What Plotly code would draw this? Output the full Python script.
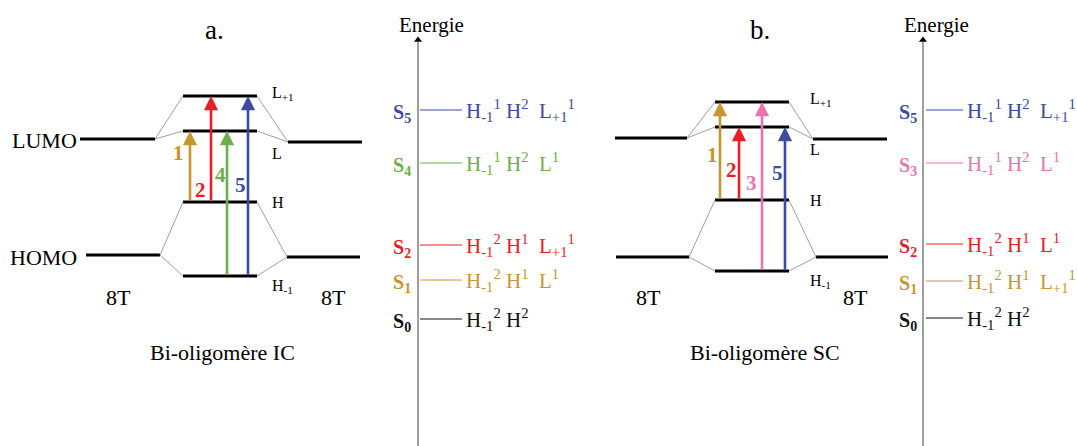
import plotly.graph_objects as go

W, H = 1077, 446
SERIF = "Liberation Serif, Times New Roman, serif"

# colour of each transition / excited state number
COL = {"0": "#111111", "1": "#c8962e", "2": "#ec1c24", "3": "#e874b0",
       "4": "#6cb04a", "5": "#3b4ba0"}

# ---------------- data (diagram energy units, up = higher) ----------------
orbitals = ["L+1", "L", "H", "H-1"]
orb_tex = {"L+1": "L<sub>+1</sub>", "L": "L", "H": "H", "H-1": "H<sub>-1</sub>"}

# panel a : Bi-oligomère IC
a_orb_E = [350, 315, 244, 170]
a_8T_lumo_E = [307, 304]          # left 8T, right 8T
a_8T_homo_E = [191, 189]
a_trans = ["1", "2", "4", "5"]
a_trans_from = ["H", "H", "H-1", "H-1"]
a_trans_to = ["L", "L+1", "L", "L+1"]
a_states = ["5", "4", "2", "1", "0"]
a_state_E = [336, 283, 201, 166, 127]
a_state_conf = [
    "H<sub>-1</sub><sup>1</sup> H<sup>2</sup>  L<sub>+1</sub><sup>1</sup>",
    "H<sub>-1</sub><sup>1</sup> H<sup>2</sup>  L<sup>1</sup>",
    "H<sub>-1</sub><sup>2</sup> H<sup>1</sup>  L<sub>+1</sub><sup>1</sup>",
    "H<sub>-1</sub><sup>2</sup> H<sup>1</sup>  L<sup>1</sup>",
    "H<sub>-1</sub><sup>2</sup> H<sup>2</sup>",
]

# panel b : Bi-oligomère SC
b_orb_E = [344, 319, 246, 175]
b_8T_lumo_E = [308, 307]
b_8T_homo_E = [189, 189]
b_trans = ["1", "2", "3", "5"]
b_trans_from = ["H", "H", "H-1", "H-1"]
b_trans_to = ["L+1", "L", "L+1", "L"]
b_states = ["5", "3", "2", "1", "0"]
b_state_E = [336, 283, 202, 165, 128]
b_state_conf = [
    "H<sub>-1</sub><sup>1</sup> H<sup>2</sup>  L<sub>+1</sub><sup>1</sup>",
    "H<sub>-1</sub><sup>1</sup> H<sup>2</sup>  L<sup>1</sup>",
    "H<sub>-1</sub><sup>2</sup> H<sup>1</sup>  L<sup>1</sup>",
    "H<sub>-1</sub><sup>2</sup> H<sup>1</sup>  L<sub>+1</sub><sup>1</sup>",
    "H<sub>-1</sub><sup>2</sup> H<sup>2</sup>",
]

# ---------------- layout geometry (x in px) ----------------
panels = [
    dict(title="a.", title_x=214, name="Bi-oligomère IC", name_x=222,
         orb_E=a_orb_E, lumo=a_8T_lumo_E, homo=a_8T_homo_E,
         trans=a_trans, tfrom=a_trans_from, tto=a_trans_to,
         states=a_states, state_E=a_state_E, conf=a_state_conf,
         l_lumo=(80, 155), l_homo=(86, 160), bars=(183, 257),
         r_lumo=(288, 362), r_homo=(287, 360),
         arrow_x=[190, 211, 227, 248],
         num_pos=[(178, 293), (200, 256), (220, 271), (240, 261)],
         orb_lab_x=270, t8_x=(118, 333), axis_x=418, sline=(420, 462),
         conf_x=464, s_x=402, show_lh=True),
    dict(title="b.", title_x=760, name="Bi-oligomère SC", name_x=765,
         orb_E=b_orb_E, lumo=b_8T_lumo_E, homo=b_8T_homo_E,
         trans=b_trans, tfrom=b_trans_from, tto=b_trans_to,
         states=b_states, state_E=b_state_E, conf=b_state_conf,
         l_lumo=(615, 687), l_homo=(616, 689), bars=(715, 789),
         r_lumo=(813, 887), r_homo=(816, 888),
         arrow_x=[720, 739, 762, 785],
         num_pos=[(712, 291), (731, 276), (751, 263), (777, 273)],
         orb_lab_x=808, t8_x=(648, 855), axis_x=923, sline=(926, 963),
         conf_x=965, s_x=908, show_lh=False),
]

fig = go.Figure()
ann = []

for p in panels:
    E = dict(zip(orbitals, p["orb_E"]))
    # thick black levels
    xs, ys = [], []
    for o in orbitals:
        xs += [p["bars"][0], p["bars"][1], None]
        ys += [E[o], E[o], None]
    xs += [p["l_lumo"][0], p["l_lumo"][1], None, p["r_lumo"][0], p["r_lumo"][1], None]
    ys += [p["lumo"][0], p["lumo"][0], None, p["lumo"][1], p["lumo"][1], None]
    xs += [p["l_homo"][0], p["l_homo"][1], None, p["r_homo"][0], p["r_homo"][1], None]
    ys += [p["homo"][0], p["homo"][0], None, p["homo"][1], p["homo"][1], None]
    fig.add_trace(go.Scatter(x=xs, y=ys, mode="lines",
                             line=dict(color="black", width=3), hoverinfo="skip"))
    # thin grey correlation lines
    cx, cy = [], []
    for (lx, rx, e8l, e8r, pair) in (
            (p["l_lumo"][1], p["r_lumo"][0], p["lumo"][0], p["lumo"][1], ("L+1", "L")),
            (p["l_homo"][1], p["r_homo"][0], p["homo"][0], p["homo"][1], ("H", "H-1"))):
        for o in pair:
            cx += [lx, p["bars"][0], None, p["bars"][1], rx, None]
            cy += [e8l, E[o], None, E[o], e8r, None]
    fig.add_trace(go.Scatter(x=cx, y=cy, mode="lines",
                             line=dict(color="#a0a0a0", width=1), hoverinfo="skip"))
    # transition arrows
    for k, (t, f, to) in enumerate(zip(p["trans"], p["tfrom"], p["tto"])):
        xa = p["arrow_x"][k]
        ann.append(dict(x=xa, y=E[to], ax=xa, ay=E[f], xref="x", yref="y",
                        axref="x", ayref="y", text="", showarrow=True,
                        arrowhead=2, arrowsize=1.1, arrowwidth=2.6,
                        arrowcolor=COL[t], standoff=0, startstandoff=0))
        nx, ny = p["num_pos"][k]
        ann.append(dict(x=nx, y=ny, xref="x", yref="y", text="<b>%s</b>" % t,
                        showarrow=False, font=dict(family=SERIF, size=21, color=COL[t])))
    # orbital labels
    for o in orbitals:
        dy = {"L+1": 3, "L": -22, "H": 0, "H-1": -10}[o]
        ann.append(dict(x=p["orb_lab_x"], y=E[o] + dy, xref="x", yref="y",
                        text=orb_tex[o], showarrow=False, xanchor="left",
                        font=dict(family=SERIF, size=16, color="black")))
    # 8T labels
    for tx in p["t8_x"]:
        ann.append(dict(x=tx, y=149, xref="x", yref="y", text="8T", showarrow=False,
                        font=dict(family=SERIF, size=22, color="black")))
    ann.append(dict(x=p["name_x"], y=94, xref="x", yref="y", text=p["name"],
                    showarrow=False, font=dict(family=SERIF, size=22, color="black")))
    ann.append(dict(x=p["title_x"], y=416, xref="x", yref="y", text=p["title"],
                    showarrow=False, font=dict(family=SERIF, size=27, color="black")))
    if p["show_lh"]:
        ann.append(dict(x=79, y=p["lumo"][0] - 1, xref="x", yref="y", text="LUMO",
                        showarrow=False, xanchor="right",
                        font=dict(family=SERIF, size=22, color="black")))
        ann.append(dict(x=79, y=p["homo"][0] - 2, xref="x", yref="y", text="HOMO",
                        showarrow=False, xanchor="right",
                        font=dict(family=SERIF, size=22, color="black")))
    # energy axis
    ax_x = p["axis_x"]
    fig.add_trace(go.Scatter(x=[ax_x, ax_x], y=[0, 404], mode="lines",
                             line=dict(color="#6a6a6a", width=1.3), hoverinfo="skip"))
    fig.add_trace(go.Scatter(x=[ax_x], y=[406], mode="markers",
                             marker=dict(symbol="triangle-up", size=7, color="black"),
                             hoverinfo="skip"))
    ann.append(dict(x=ax_x + 13, y=421, xref="x", yref="y", text="Energie",
                    showarrow=False, xanchor="center",
                    font=dict(family=SERIF, size=21, color="black")))
    # excited states
    for s, e, c in zip(p["states"], p["state_E"], p["conf"]):
        col = COL[s]
        fig.add_trace(go.Scatter(x=[p["sline"][0], p["sline"][1]], y=[e, e], mode="lines",
                                 line=dict(color=col, width=1), hoverinfo="skip"))
        ann.append(dict(x=p["s_x"], y=e - 3, xref="x", yref="y",
                        text="<b>S<sub>%s</sub></b>" % s, showarrow=False,
                        font=dict(family=SERIF, size=20, color=col)))
        ann.append(dict(x=p["conf_x"], y=e, xref="x", yref="y", text=c,
                        showarrow=False, xanchor="left",
                        font=dict(family=SERIF, size=21, color=col)))

fig.update_layout(
    width=W, height=H, margin=dict(l=0, r=0, t=0, b=0),
    paper_bgcolor="white", plot_bgcolor="white", showlegend=False,
    xaxis=dict(range=[0, W], visible=False, fixedrange=True),
    yaxis=dict(range=[0, H], visible=False, fixedrange=True),
    annotations=ann,
)
fig.write_html("out.html",
               config={"displayModeBar": False, "staticPlot": True},
               post_script="document.body.style.margin='0';"
                           "document.body.style.overflow='hidden';")
